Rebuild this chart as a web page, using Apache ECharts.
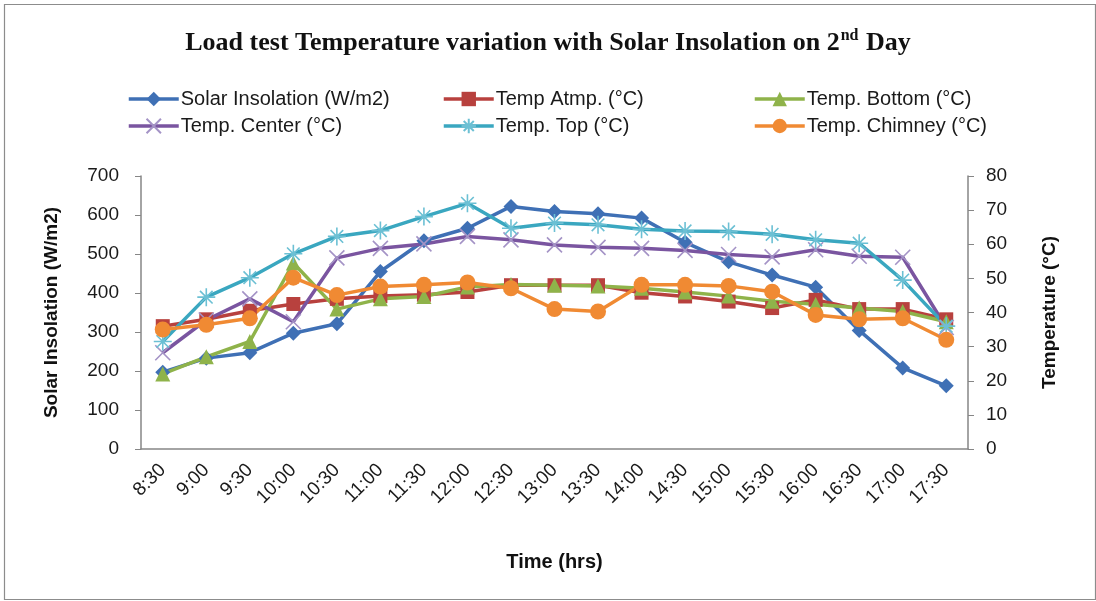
<!DOCTYPE html>
<html>
<head>
<meta charset="utf-8">
<style>
  html, body { margin: 0; padding: 0; background: #fff; }
  #chart { width: 1096px; height: 601px; }
</style>
<script src="https://cdn.jsdelivr.net/npm/echarts@6/dist/echarts.min.js"></script>
</head>
<body>
<div id="chart"></div>
<script>
// Time of day (x axis categories)
const times = ['8:30', '9:00', '9:30', '10:00', '10:30', '11:00', '11:30', '12:00', '12:30', '13:00',
  '13:30', '14:00', '14:30', '15:00', '15:30', '16:00', '16:30', '17:00', '17:30'];

// Solar insolation, W/m2 (left axis)
const solarInsolation = [197, 233, 247, 297, 321, 455, 534, 566, 622, 609, 603, 592, 530, 480, 446, 415, 304, 208, 162];

// Temperatures, °C (right axis)
const tempAtmp = [36, 38, 40.5, 42.5, 44, 44.8, 45.2, 46, 48, 48, 48, 45.8, 44.7, 43.2, 41.3, 43.7, 41, 41, 38];
const tempBottom = [22, 27, 31.5, 54.5, 41, 44, 44.7, 47.5, 48.2, 48, 47.8, 47.1, 46, 44.8, 43.3, 42.4, 41.3, 40.3, 37.3];
const tempCenter = [28.2, 37.8, 44, 37.3, 56, 58.8, 60.1, 62.3, 61.3, 59.8, 59.1, 58.8, 58.2, 57, 56.3, 58.4, 56.5, 56.2, 35.6];
const tempTop = [31.5, 44.5, 50.2, 57.2, 62.3, 64, 68.1, 72, 64.7, 66.2, 65.7, 64.4, 63.9, 63.7, 62.9, 61.3, 60.3, 49.5, 36];
const tempChimney = [35, 36.4, 38.3, 50.2, 45.1, 47.6, 48.1, 48.8, 47.1, 41, 40.3, 48.1, 48.1, 47.8, 46.1, 39.3, 38, 38.3, 32];

const leftTicks = { min: 0, max: 700, interval: 100 };
const rightTicks = { min: 0, max: 80, interval: 10 };

const SANS = '"Liberation Sans", Arial, sans-serif';
const AXIS_GRAY = '#868686';

const CROSS = 'path://M0,0L10,10M10,0L0,10';
const ASTERISK = 'path://M5,0L5,10M0,5L10,5M1.5,1.5L8.5,8.5M8.5,1.5L1.5,8.5';

function lineSeries(name, data, color, symbol, size, yIndex, markerColor, stroked) {
  const itemStyle = stroked
    ? { color: markerColor, borderColor: markerColor, borderWidth: 1.6 }
    : { color: markerColor, borderWidth: 0 };
  return {
    name, type: 'line', data, yAxisIndex: yIndex,
    symbol, symbolSize: size, showAllSymbol: true,
    lineStyle: { color, width: 3.5 },
    itemStyle,
    emphasis: { disabled: true },
    z: 2
  };
}

const series = [
  lineSeries('Solar Insolation (W/m2)', solarInsolation, '#3f70b5', 'diamond', 15, 0, '#3f70b5', false),
  lineSeries('Temp Atmp. (°C)', tempAtmp, '#b8413e', 'rect', 14, 1, '#b8413e', false),
  lineSeries('Temp. Bottom (°C)', tempBottom, '#8fb34a', 'triangle', 15, 1, '#8fb34a', false),
  lineSeries('Temp. Center (°C)', tempCenter, '#7a55a0', CROSS, 15, 1, '#a493c6', true),
  lineSeries('Temp. Top (°C)', tempTop, '#3aa7c0', ASTERISK, 18, 1, '#6cc0d4', true),
  lineSeries('Temp. Chimney (°C)', tempChimney, '#f08a33', 'circle', 16, 1, '#f08a33', false)
];

function legendColumn(left, names) {
  return {
    left, top: 84, orient: 'vertical', itemGap: 7,
    itemWidth: 50, itemHeight: 18,
    data: names,
    lineStyle: { width: 3.5 },
    textStyle: { fontFamily: SANS, fontSize: 20, color: '#1a1a1a', padding: [0, 0, 0, -3] },
    selectedMode: false
  };
}

const chart = echarts.init(document.getElementById('chart'), null, { renderer: 'canvas' });
chart.setOption({
  animation: false,
  backgroundColor: '#ffffff',
  title: {
    text: 'Load test Temperature variation with Solar Insolation on 2{sup|nd} Day',
    left: 'center', top: 23,
    textStyle: {
      fontFamily: '"Liberation Serif", "Times New Roman", serif',
      fontWeight: 'bold', fontSize: 26, color: '#111',
      lineHeight: 31,
      rich: {
        sup: {
          fontFamily: '"Liberation Serif", "Times New Roman", serif',
          fontWeight: 'bold', fontSize: 16, color: '#111',
          verticalAlign: 'top', lineHeight: 31, padding: [0, 1, 0, 1]
        }
      }
    }
  },
  legend: [
    legendColumn(122, ['Solar Insolation (W/m2)', 'Temp. Center (°C)']),
    legendColumn(437, ['Temp Atmp. (°C)', 'Temp. Top (°C)']),
    legendColumn(748, ['Temp. Bottom (°C)', 'Temp. Chimney (°C)'])
  ],
  grid: { left: 141, right: 128, top: 176, bottom: 152 },
  xAxis: {
    type: 'category', data: times, boundaryGap: true,
    name: 'Time (hrs)', nameLocation: 'middle', nameGap: 103,
    nameTextStyle: { fontFamily: SANS, fontWeight: 'bold', fontSize: 20, color: '#111' },
    axisLine: { lineStyle: { color: AXIS_GRAY, width: 1.5 } },
    axisTick: { length: 6, lineStyle: { color: AXIS_GRAY } },
    axisLabel: { rotate: 45, margin: 18, interval: 0, fontFamily: SANS, fontSize: 19, color: '#1a1a1a' },
    splitLine: { show: false }
  },
  yAxis: [
    {
      type: 'value', position: 'left', ...leftTicks,
      name: 'Solar Insolation (W/m2)', nameLocation: 'middle', nameGap: 80, nameRotate: 90,
      nameTextStyle: { fontFamily: SANS, fontWeight: 'bold', fontSize: 19, color: '#111' },
      axisLine: { show: true, lineStyle: { color: AXIS_GRAY, width: 1.5 } },
      axisTick: { show: true, length: 6, lineStyle: { color: AXIS_GRAY } },
      axisLabel: { margin: 22, fontFamily: SANS, fontSize: 19, color: '#1a1a1a' },
      splitLine: { show: false }
    },
    {
      type: 'value', position: 'right', ...rightTicks,
      name: 'Temperature (°C)', nameLocation: 'middle', nameGap: 72, nameRotate: 90,
      nameTextStyle: { fontFamily: SANS, fontWeight: 'bold', fontSize: 19, color: '#111' },
      axisLine: { show: true, lineStyle: { color: AXIS_GRAY, width: 1.5 } },
      axisTick: { show: true, length: 6, lineStyle: { color: AXIS_GRAY } },
      axisLabel: { margin: 18, fontFamily: SANS, fontSize: 19, color: '#1a1a1a' },
      splitLine: { show: false }
    }
  ],
  graphic: [{
    type: 'rect', left: 2, top: 2, silent: true,
    shape: { width: 1091, height: 595 },
    style: { fill: 'none', stroke: '#8c8c8c', lineWidth: 1.2 },
    z: -1
  }],
  series
});
</script>
</body>
</html>
